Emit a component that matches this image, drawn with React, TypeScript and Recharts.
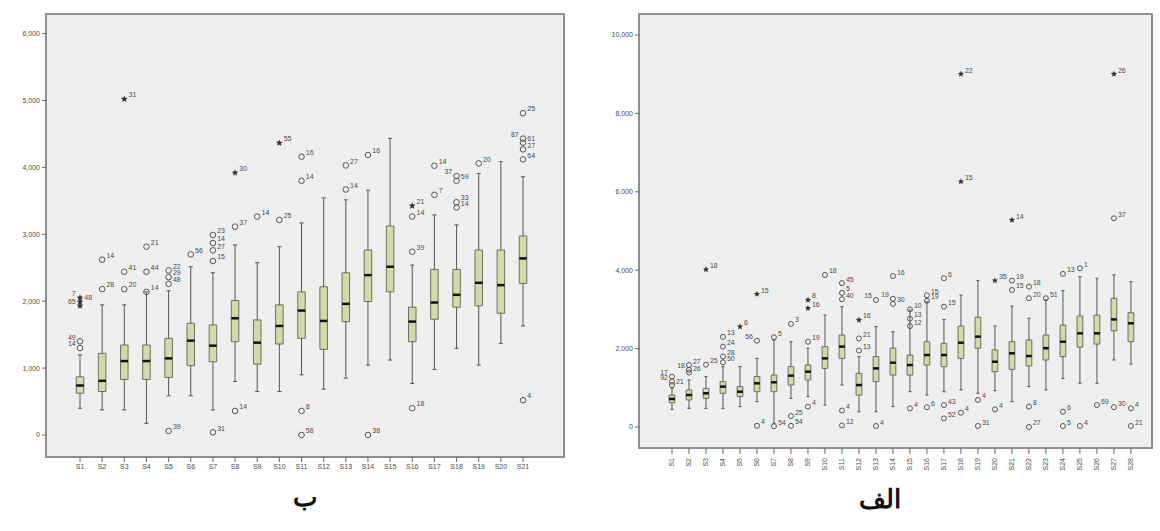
import { ComposedChart, XAxis, YAxis, Scatter, ReferenceArea, ReferenceLine } from "recharts";

// panel ب (left)
const leftCats = ["S1", "S2", "S3", "S4", "S5", "S6", "S7", "S8", "S9", "S10", "S11", "S12", "S13", "S14", "S15", "S16", "S17", "S18", "S19", "S20", "S21"];
const leftMin = [400, 375, 375, 175, 585, 585, 375, 800, 650, 650, 900, 685, 850, 1045, 1120, 770, 980, 1295, 1045, 1370, 1630];
const leftQ1 = [625, 650, 830, 830, 860, 1035, 1095, 1395, 1060, 1360, 1445, 1280, 1695, 1995, 2140, 1395, 1730, 1910, 1930, 1820, 2265];
const leftMed = [740, 810, 1105, 1105, 1145, 1410, 1335, 1745, 1380, 1630, 1860, 1705, 1960, 2390, 2515, 1695, 1980, 2095, 2275, 2240, 2640];
const leftQ3 = [870, 1220, 1345, 1345, 1445, 1670, 1645, 2010, 1720, 1945, 2140, 2215, 2425, 2765, 3125, 1910, 2475, 2475, 2765, 2765, 2975];
const leftMax = [1195, 1945, 1945, 2140, 2155, 2515, 2425, 2840, 2575, 2815, 3170, 3545, 3515, 3660, 4435, 2540, 3290, 3140, 3910, 4085, 3860];
// [category index, value, case label, "o" = outlier circle / "*" = extreme, label side]
const leftOutliers: [number, number, string, string, string?][] = [
  [0, 2050, "7", "*", "l"], [0, 1990, "48", "*"], [0, 1930, "65", "*", "l"], [0, 1400, "49", "o", "l"], [0, 1300, "14", "o", "l"],
  [1, 2620, "14", "o"], [1, 2180, "28", "o"],
  [2, 5020, "31", "*"], [2, 2440, "41", "o"], [2, 2180, "20", "o"],
  [3, 2815, "21", "o"], [3, 2440, "44", "o"], [3, 2140, "14", "o"],
  [4, 2460, "22", "o"], [4, 2360, "29", "o"], [4, 2260, "48", "o"], [4, 60, "39", "o"],
  [5, 2700, "56", "o"],
  [6, 2990, "23", "o"], [6, 2870, "14", "o"], [6, 2760, "27", "o"], [6, 2600, "15", "o"], [6, 40, "31", "o"],
  [7, 3920, "30", "*"], [7, 3115, "37", "o"], [7, 360, "14", "o"],
  [8, 3265, "14", "o"],
  [9, 4365, "55", "*"], [9, 3215, "25", "o"],
  [10, 4160, "16", "o"], [10, 3800, "14", "o"], [10, 360, "8", "o"], [10, 0, "58", "o"],
  [12, 4030, "27", "o"], [12, 3670, "14", "o"],
  [13, 4185, "16", "o"], [13, 0, "38", "o"],
  [15, 3425, "21", "*"], [15, 3265, "14", "o"], [15, 2740, "39", "o"], [15, 400, "18", "o"],
  [16, 4025, "14", "o"], [16, 3590, "7", "o"],
  [17, 3870, "37", "o", "l"], [17, 3800, "59", "o"], [17, 3480, "33", "o"], [17, 3400, "14", "o"],
  [18, 4060, "20", "o"],
  [20, 4810, "25", "o"], [20, 4430, "87", "o", "l"], [20, 4370, "61", "o"], [20, 4270, "27", "o"], [20, 4120, "64", "o"], [20, 520, "4", "o"],
];
const leftTicks = [0, 1000, 2000, 3000, 4000, 5000, 6000];

// panel الف (right)
const rightCats = Array.from({ length: 28 }, (_, i) => "S" + (i + 1));
const rightMin = [450, 475, 475, 475, 520, 645, 95, 730, 775, 560, 1070, 390, 390, 520, 900, 815, 900, 945, 860, 925, 645, 1030, 945, 1240, 1115, 1115, 1710, 1605];
const rightQ1 = [620, 690, 730, 860, 775, 900, 900, 1070, 1200, 1495, 1750, 815, 1155, 1325, 1325, 1580, 1540, 1750, 2010, 1410, 1470, 1555, 1710, 1795, 2035, 2115, 2455, 2175];
const rightMed = [715, 815, 860, 1030, 900, 1115, 1140, 1310, 1410, 1750, 2050, 1070, 1495, 1640, 1580, 1835, 1835, 2150, 2305, 1665, 1880, 1810, 2010, 2175, 2390, 2390, 2745, 2645];
const rightQ3 = [815, 945, 985, 1155, 1030, 1285, 1325, 1540, 1580, 2050, 2345, 1370, 1795, 2010, 1835, 2175, 2135, 2575, 2800, 1965, 2175, 2220, 2345, 2600, 2830, 2855, 3285, 2915];
const rightMax = [995, 1200, 1285, 1540, 1540, 1750, 2220, 2175, 2010, 2855, 3070, 1795, 2560, 2430, 2985, 3195, 2745, 3365, 3735, 2575, 3085, 2775, 3240, 3480, 3835, 3795, 3880, 3705];
const rightOutliers: [number, number, string, string, string?][] = [
  [0, 1285, "17", "o", "l"], [0, 1155, "92", "o", "l"], [0, 1070, "21", "o"],
  [1, 1580, "27", "o"], [1, 1460, "18", "o", "l"], [1, 1390, "26", "o"],
  [2, 4020, "18", "*"], [2, 1590, "25", "o"],
  [3, 2300, "13", "o"], [3, 2050, "24", "o"], [3, 1800, "28", "o"], [3, 1650, "50", "o"],
  [4, 2560, "6", "*"],
  [5, 3390, "15", "*"], [5, 2200, "56", "o", "l"], [5, 30, "4", "o"],
  [6, 2290, "5", "o"], [6, 20, "54", "o"],
  [7, 2630, "3", "o"], [7, 280, "25", "o"], [7, 30, "54", "o"],
  [8, 3240, "8", "*"], [8, 3030, "16", "*"], [8, 2175, "19", "o"], [8, 520, "4", "o"],
  [9, 3880, "18", "o"],
  [10, 3670, "45", "o"], [10, 3420, "5", "o"], [10, 3260, "40", "o"], [10, 420, "4", "o"], [10, 40, "12", "o"],
  [11, 2730, "16", "*"], [11, 2260, "21", "o"], [11, 1950, "13", "o"],
  [12, 3240, "15", "o", "l"], [12, 25, "4", "o"],
  [13, 3850, "16", "o"], [13, 3270, "19", "o", "l"], [13, 3140, "30", "o"],
  [14, 3000, "10", "o"], [14, 2760, "13", "o"], [14, 2575, "12", "o"], [14, 475, "4", "o"],
  [15, 3360, "15", "o"], [15, 3220, "19", "o"], [15, 505, "6", "o"],
  [16, 3795, "6", "o"], [16, 3070, "15", "o"], [16, 560, "43", "o"], [16, 220, "52", "o"],
  [17, 9005, "22", "*"], [17, 6260, "15", "*"], [17, 365, "4", "o"],
  [18, 690, "4", "o"], [18, 25, "31", "o"],
  [19, 3735, "35", "*"], [19, 450, "4", "o"],
  [20, 5280, "14", "*"], [20, 3735, "19", "o"], [20, 3495, "15", "o"],
  [21, 3580, "18", "o"], [21, 3285, "20", "o"], [21, 520, "8", "o"], [21, 0, "27", "o"],
  [22, 3285, "51", "o"],
  [23, 3905, "13", "o"], [23, 390, "6", "o"], [23, 25, "5", "o"],
  [24, 4050, "1", "o"], [24, 25, "4", "o"],
  [25, 560, "69", "o"],
  [26, 9005, "26", "*"], [26, 5325, "37", "o"], [26, 505, "30", "o"],
  [27, 475, "4", "o"], [27, 25, "21", "o"],
];
const rightTicks = [0, 2000, 4000, 6000, 8000, 10000];

const fmt = (v: number) => v.toLocaleString("en-US");
const FONT = "Liberation Sans, Arial, sans-serif";

function starPath(cx: number, cy: number, r: number) {
  let d = "";
  for (let k = 0; k < 10; k++) {
    const a = -Math.PI / 2 + (k * Math.PI) / 5;
    const rr = k % 2 === 0 ? r : r * 0.45;
    d += (k === 0 ? "M" : "L") + (cx + rr * Math.cos(a)) + "," + (cy + rr * Math.sin(a));
  }
  return d + "Z";
}

const makeShape = (r: number) => (props: any) => {
  const { cx, cy, payload } = props;
  const left = payload.side === "l";
  return (
    <g>
      {payload.kind === "*" ? (
        <path d={starPath(cx, cy, r + 0.8)} fill="#333" />
      ) : (
        <circle cx={cx} cy={cy} r={r} fill="none" stroke="#555" strokeWidth={1} />
      )}
      <text
        x={left ? cx - r - 1.5 : cx + r + 1.5}
        y={cy - r + 1}
        textAnchor={left ? "end" : "start"}
        fontSize={7}
        fill="#4a4a4a"
        fontFamily={FONT}
      >
        {payload.label}
      </text>
    </g>
  );
};

const VerticalTick = (props: any) => {
  const { x, y, payload, cats } = props;
  return (
    <text transform={`translate(${x + 2.5},${y + 2}) rotate(-90)`} textAnchor="end" fontSize={7} fill="#4a4a4a" fontFamily={FONT}>
      {cats[payload.value]}
    </text>
  );
};

type PanelProps = {
  width: number;
  height: number;
  cats: string[];
  mins: number[];
  q1s: number[];
  meds: number[];
  q3s: number[];
  maxs: number[];
  outliers: [number, number, string, string, string?][];
  xDomain: [number, number];
  yDomain: [number, number];
  yTicks: number[];
  yAxisWidth: number;
  xAxisHeight: number;
  marginRight: number;
  halfW: number;
  r: number;
  vertical: boolean;
};

function BoxPanel(p: PanelProps) {
  const points = p.outliers.map(([i, v, label, kind, side]) => ({ x: i, y: v, label, kind, side }));
  const cap = p.halfW * 0.55;
  const marks: any[] = [];
  p.cats.forEach((_, i) => {
    marks.push(
      <ReferenceLine key={"lw" + i} segment={[{ x: i, y: p.mins[i] }, { x: i, y: p.q1s[i] }]} stroke="#555" strokeWidth={1} ifOverflow="visible" />,
      <ReferenceLine key={"uw" + i} segment={[{ x: i, y: p.q3s[i] }, { x: i, y: p.maxs[i] }]} stroke="#555" strokeWidth={1} ifOverflow="visible" />,
      <ReferenceLine key={"lc" + i} segment={[{ x: i - cap, y: p.mins[i] }, { x: i + cap, y: p.mins[i] }]} stroke="#555" strokeWidth={1} ifOverflow="visible" />,
      <ReferenceLine key={"uc" + i} segment={[{ x: i - cap, y: p.maxs[i] }, { x: i + cap, y: p.maxs[i] }]} stroke="#555" strokeWidth={1} ifOverflow="visible" />,
      <ReferenceArea key={"bx" + i} x1={i - p.halfW} x2={i + p.halfW} y1={p.q1s[i]} y2={p.q3s[i]} fill="#d5d8a8" fillOpacity={1} stroke="#707060" strokeWidth={1} ifOverflow="visible" />,
      <ReferenceLine key={"md" + i} segment={[{ x: i - p.halfW, y: p.meds[i] }, { x: i + p.halfW, y: p.meds[i] }]} stroke="#111" strokeWidth={2.5} ifOverflow="visible" />
    );
  });
  return (
    <ComposedChart width={p.width} height={p.height} margin={{ top: 14, right: p.marginRight, bottom: 0, left: 0 }}>
      <XAxis
        type="number"
        dataKey="x"
        domain={p.xDomain}
        allowDataOverflow
        ticks={p.cats.map((_, i) => i)}
        interval={0}
        height={p.xAxisHeight}
        tickSize={p.vertical ? 6 : 5}
        tickLine={{ stroke: "#666" }}
        axisLine={false}
        tickFormatter={(v: number) => p.cats[v]}
        tick={p.vertical ? <VerticalTick cats={p.cats} /> : { fontSize: 7, fill: "#4a4a4a", fontFamily: FONT }}
      />
      <YAxis
        type="number"
        dataKey="y"
        domain={p.yDomain}
        allowDataOverflow
        ticks={p.yTicks}
        interval={0}
        width={p.yAxisWidth}
        tickSize={4}
        tickLine={{ stroke: "#666" }}
        axisLine={false}
        tickFormatter={fmt}
        tick={{ fontSize: 7, fill: "#4a4a4a", fontFamily: FONT }}
      />
      <ReferenceArea x1={p.xDomain[0]} x2={p.xDomain[1]} y1={p.yDomain[0]} y2={p.yDomain[1]} fill="#efefef" fillOpacity={1} stroke="#8e8e8e" strokeWidth={2} ifOverflow="visible" />
      {marks}
      <Scatter data={points} shape={makeShape(p.r)} isAnimationActive={false} />
    </ComposedChart>
  );
}

export default function App() {
  return (
    <div style={{ position: "relative", width: 1160, height: 531, background: "#fff", overflow: "hidden" }}>
      <style>{`body{margin:0}`}</style>
      <div style={{ position: "absolute", left: 0, top: 0 }}>
        <BoxPanel
          width={580}
          height={531}
          cats={leftCats}
          mins={leftMin}
          q1s={leftQ1}
          meds={leftMed}
          q3s={leftQ3}
          maxs={leftMax}
          outliers={leftOutliers}
          xDomain={[-1.535, 21.85]}
          yDomain={[-329, 6293]}
          yTicks={leftTicks}
          yAxisWidth={46}
          xAxisHeight={74}
          marginRight={16}
          halfW={0.17}
          r={2.8}
          vertical={false}
        />
      </div>
      <div style={{ position: "absolute", left: 590, top: 0 }}>
        <BoxPanel
          width={570}
          height={531}
          cats={rightCats}
          mins={rightMin}
          q1s={rightQ1}
          meds={rightMed}
          q3s={rightQ3}
          maxs={rightMax}
          outliers={rightOutliers}
          xDomain={[-1.94, 28.24]}
          yDomain={[-536, 10536]}
          yTicks={rightTicks}
          yAxisWidth={49}
          xAxisHeight={83}
          marginRight={8}
          halfW={0.17}
          r={2.5}
          vertical={true}
        />
      </div>
      <div style={{ position: "absolute", left: 255, top: 482, width: 100, textAlign: "center", fontSize: 26, fontWeight: "bold", fontFamily: "DejaVu Serif, serif", color: "#111" }}>
        ب
      </div>
      <div style={{ position: "absolute", left: 830, top: 484, width: 100, textAlign: "center", fontSize: 26, fontWeight: "bold", fontFamily: "DejaVu Serif, serif", color: "#111" }}>
        الف
      </div>
    </div>
  );
}
